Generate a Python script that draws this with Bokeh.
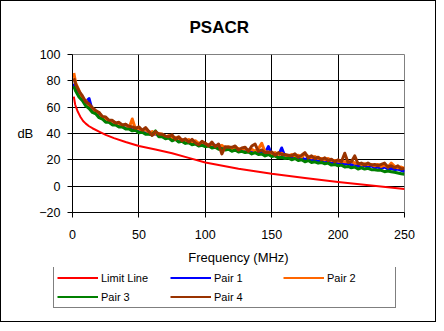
from bokeh.plotting import figure
from bokeh.models import Range1d, FixedTicker, Legend, LegendItem, Title
from bokeh.layouts import column
from bokeh.embed import file_html
from bokeh.resources import INLINE

freq = [1, 2.5, 5, 7.5, 10, 12.5, 15, 17.5, 20, 22.5,
        25, 27.5, 30, 32.5, 35, 37.5, 40, 42.5, 45, 47.5,
        50, 52.5, 55, 57.5, 60, 62.5, 65, 67.5, 70, 72.5,
        75, 77.5, 80, 82.5, 85, 87.5, 90, 92.5, 95, 97.5,
        100, 102.5, 105, 107.5, 110, 112.5, 115, 117.5, 120, 122.5,
        125, 127.5, 130, 132.5, 135, 137.5, 140, 142.5, 145, 147.5,
        150, 152.5, 155, 157.5, 160, 162.5, 165, 167.5, 170, 172.5,
        175, 177.5, 180, 182.5, 185, 187.5, 190, 192.5, 195, 197.5,
        200, 202.5, 205, 207.5, 210, 212.5, 215, 217.5, 220, 222.5,
        225, 227.5, 230, 232.5, 235, 237.5, 240, 242.5, 245, 247.5,
        250]

pair1 = [78, 73, 70.5, 65.5, 64, 66.5, 57, 56.5, 53, 52,
         49.5, 49, 47, 47.5, 45.5, 45.5, 44, 45, 42.5, 43.5,
         41.5, 42.5, 40, 41.5, 39, 40, 38, 38.5, 36.5, 37.5,
         35, 36, 34, 35.5, 33, 34, 32, 33.5, 31, 32.5,
         30.5, 31.5, 30, 31, 29, 30, 28, 29.5, 27.5, 28.5,
         27, 28, 26.5, 27.5, 26, 26.5, 25, 26, 25, 30,
         24, 24.5, 23, 29, 22.5, 23, 21.5, 22.5, 21, 22,
         20, 21.5, 19.5, 20.5, 19, 20, 18, 19.5, 17.5, 18.5,
         17, 18, 16.5, 17.5, 16, 17, 15, 16, 15.5, 14.5,
         15.5, 14, 14.5, 13.5, 14.5, 13, 13.5, 12.5, 13, 12,
         11]

pair2 = [86, 78, 72.5, 66, 65, 60.5, 59.5, 56, 56, 52,
         51.5, 49, 49.5, 47, 48, 45.5, 47, 44, 51, 43,
         44, 42, 43, 40.5, 41.5, 39.5, 40, 39.5, 37, 38.5,
         36.5, 37, 36, 35.5, 34, 35.5, 33, 34.5, 32.5, 33,
         32.5, 31, 32, 30.5, 30.5, 31, 29, 30, 28, 29.5,
         28.5, 27.5, 28.5, 27, 28, 26.5, 28.5, 32.5, 26, 26,
         24.5, 25.5, 24, 25, 23.5, 23, 24, 22.5, 23.5, 22,
         24.5, 22.5, 21.5, 22.5, 21, 21, 20, 21, 19.5, 19.5,
         19, 19, 18.5, 18.5, 19, 17.5, 17.5, 16.5, 17, 16.5,
         16.5, 15.5, 16.5, 15, 16, 14.5, 17.5, 15, 14, 14.5,
         13.5]

pair3 = [76, 72, 67.5, 65, 61, 59, 56, 55, 52, 51,
         48.5, 48.5, 46.5, 46.5, 45, 45, 43.5, 43.5, 42, 42.5,
         40.5, 41, 39.5, 39.5, 39, 42, 37.5, 37.5, 36, 36.5,
         34.5, 35.5, 33.5, 34, 32.5, 33, 31.5, 32, 30.5, 31,
         30, 30.5, 29, 29.5, 28, 28.5, 27.5, 28, 26.5, 27.5,
         26, 26.5, 25.5, 26, 24.5, 25.5, 24, 24.5, 23, 24,
         22.5, 23, 21.5, 22, 21, 21.5, 20, 21, 19.5, 20,
         18.5, 19.5, 18, 18.5, 17.5, 18, 17, 17.5, 16, 16.5,
         15.5, 16, 14.5, 15, 14, 14.5, 13, 14, 13, 13.5,
         12.5, 12.5, 12, 12, 11, 11.5, 11, 10.5, 10, 9.5,
         9]

pair4 = [82, 77, 72, 68.5, 64, 62.5, 59.5, 57.5, 56, 53,
         52.5, 50, 50, 48, 48.5, 46.5, 47, 45.5, 45, 44,
         45, 42.5, 44.5, 41.5, 38.5, 41.5, 39.5, 39.5, 38, 37.5,
         39, 35.5, 37.5, 34.5, 36, 33.5, 35.5, 33, 31.5, 34,
         32.5, 30.5, 33.5, 30, 32, 24.5, 30, 29.5, 29.5, 30.5,
         27.5, 29, 29.5, 26.5, 30.5, 32, 26.5, 27.5, 25.5, 25.5,
         26, 23.5, 25.5, 24, 24, 23.5, 23, 24.5, 22, 23.5,
         25.5, 21.5, 23, 21, 22, 20, 21.5, 19.5, 20.5, 18.5,
         20, 18.5, 25, 18, 18.5, 23, 17, 17.5, 16, 17.5,
         16, 16.5, 15.5, 16.5, 17.5, 14.5, 15.5, 14, 15.5, 13,
         13.5]

limit_freq = [1, 2, 3, 4, 5, 6, 8, 10, 12.5, 15, 20, 25, 31.25, 40, 50, 62.5, 75, 87.5,
              100, 125, 150, 175, 200, 225, 250]
limit_db = [68, 62, 59, 56.5, 54.5, 52.5, 49.5, 47.5, 45.5, 44, 41.5, 39, 36.5, 33.5,
            30.5, 27.8, 25, 21.5, 18, 13.2, 9.4, 6.2, 3.2, 0.5, -2.2]

series_names = ["Limit Line", "Pair 1", "Pair 2", "Pair 3", "Pair 4"]
series_colors = ["#FF0000", "#0000FF", "#FF6600", "#008000", "#993300"]

x_ticks = [0, 50, 100, 150, 200, 250]
y_ticks = [-20, 0, 20, 40, 60, 80, 100]

FONT = "Liberation Sans"

p = figure(width=434, height=266, output_backend="svg", toolbar_location=None,
           x_range=Range1d(0, 250), y_range=Range1d(-20, 100),
           min_border_left=71, min_border_right=31, min_border_top=53, min_border_bottom=53,
           background_fill_color="white", border_fill_color="white",
           outline_line_color="#808080", frame_align=False)

p.add_layout(Title(text="PSACR", align="left", offset=117, vertical_align="top",
                   text_font=FONT, text_color="black",
                   text_font_size="17px", text_font_style="bold", standoff=31), "above")

for ax, ticks in ((p.xaxis[0], x_ticks), (p.yaxis[0], y_ticks)):
    ax.ticker = FixedTicker(ticks=ticks)
    ax.axis_line_color = "black"
    ax.major_tick_line_color = "black"
    ax.major_tick_out = 5
    ax.major_tick_in = 0
    ax.minor_tick_line_color = None
    ax.major_label_text_font = FONT
    ax.major_label_text_font_size = "12.5px"
    ax.major_label_text_color = "black"
    ax.axis_label_text_font = FONT
    ax.axis_label_text_font_size = "13px"
    ax.axis_label_text_font_style = "normal"
    ax.axis_label_text_color = "black"

p.xaxis.axis_label = "Frequency (MHz)"
p.xaxis.major_label_standoff = 12
p.xaxis.axis_label_standoff = 8
p.yaxis.axis_label = "dB"
p.yaxis.axis_label_orientation = "horizontal"
p.yaxis.major_label_standoff = 7
p.yaxis.axis_label_standoff = 3

p.xgrid.ticker = FixedTicker(ticks=x_ticks)
p.ygrid.ticker = FixedTicker(ticks=y_ticks)
p.grid.grid_line_color = "black"
p.grid.grid_line_width = 1

all_x = [limit_freq, freq, freq, freq, freq]
all_y = [limit_db, pair1, pair2, pair3, pair4]
widths = [2, 3, 3, 3, 3]
for xs, ys, col, w in zip(all_x, all_y, series_colors, widths):
    p.line(xs, ys, line_color=col, line_width=w, line_join="round")

# legend panel (below the chart, inside the same chart border)
pl = figure(width=434, height=54, output_backend="svg", toolbar_location=None,
            x_range=Range1d(0, 250), y_range=Range1d(-20, 100),
            x_axis_type=None, y_axis_type=None, min_border=0,
            outline_line_color=None, border_fill_color="white",
            background_fill_color="white", frame_align=False)
pl.xgrid.visible = False
pl.ygrid.visible = False
items = []
for name, xs, ys, col in zip(series_names, all_x, all_y, series_colors):
    r = pl.line(xs, ys, line_color=col, line_width=2, visible=False)
    items.append(LegendItem(label=name, renderers=[r]))

legend = Legend(items=items, orientation="horizontal", ncols=3, location=(52, 13),
                glyph_width=41, glyph_height=15, label_height=15, label_width=65,
                label_standoff=3, spacing=4, padding=3, margin=0,
                label_text_font=FONT, label_text_font_size="11px", label_text_color="black",
                border_line_color="black", border_line_width=1,
                background_fill_color="white", background_fill_alpha=1,
                inactive_fill_alpha=0)
pl.add_layout(legend, "center")

layout = column(p, pl, spacing=0)
layout.styles = {"border": "1px solid black"}

open("out.html", "w").write(file_html(layout, INLINE))
